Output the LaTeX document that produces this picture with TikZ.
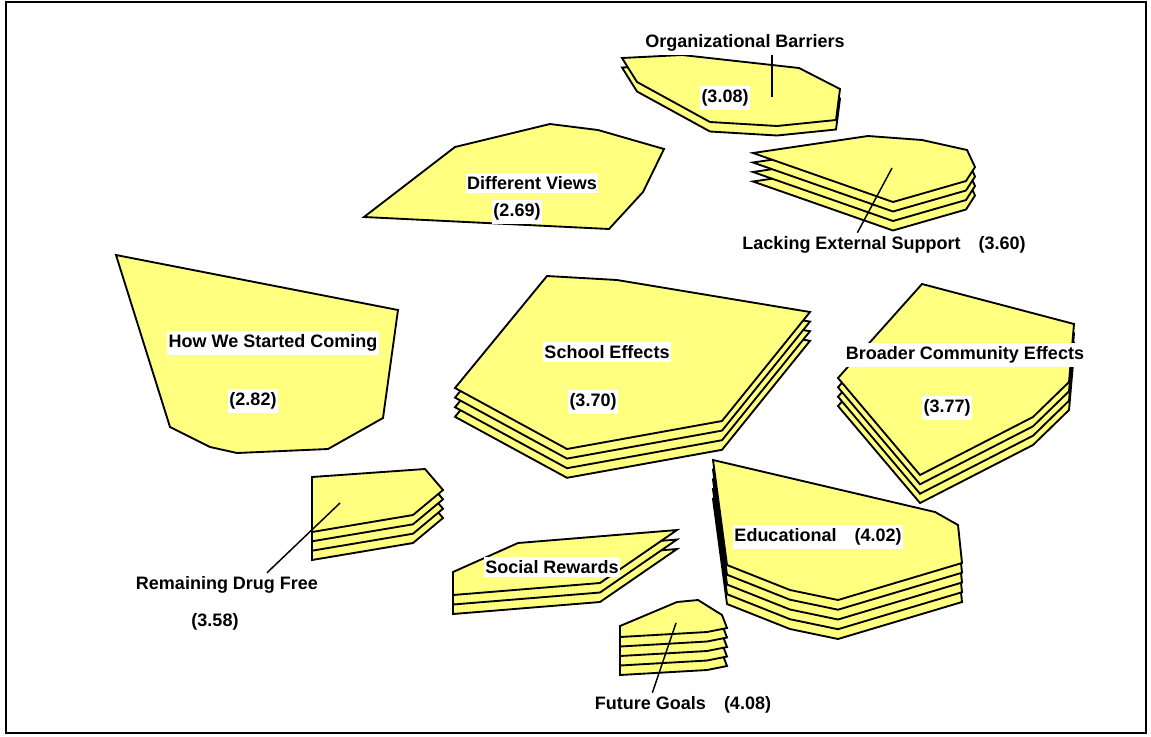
\documentclass[tikz,border=0pt]{standalone}
\usepackage{fontspec}
\setmainfont{Liberation Sans}

\tikzset{every picture/.style={line width=0.75pt}}
\tikzset{
  cluster/.style={draw=black, line width=1.4pt, fill={rgb, 255:red, 255; green, 255; blue, 128}},
  lbl/.style={fill=white, inner xsep=1pt, inner ysep=2.5pt, font=\fontsize{13.5}{16}\selectfont\bfseries},
  leader/.style={draw=black, line width=1.1pt}
}

\begin{document}
\begin{tikzpicture}[x=0.75pt,y=0.75pt,yscale=-1,xscale=1]
\useasboundingbox (0,0) rectangle (1151,736);
%Frame
\draw [line width=1.5pt] (6,2) rectangle (1146,733);

%Shape: Organizational Barriers (2 layers)
\draw [cluster, shift={(0,9.5)}] (622,58) -- (682,55) -- (799,68) -- (840,89) -- (836,120) -- (777,126) -- (710,122) -- (637,82) -- cycle ;
\draw [cluster] (622,58) -- (682,55) -- (799,68) -- (840,89) -- (836,120) -- (777,126) -- (710,122) -- (637,82) -- cycle ;
%Shape: Lacking External Support (4 layers)
\draw [cluster, shift={(0,28.5)}] (753,153) -- (868,136) -- (922,140) -- (967,150) -- (975,167) -- (966,181) -- (893,202) -- cycle ;
\draw [cluster, shift={(0,19)}] (753,153) -- (868,136) -- (922,140) -- (967,150) -- (975,167) -- (966,181) -- (893,202) -- cycle ;
\draw [cluster, shift={(0,9.5)}] (753,153) -- (868,136) -- (922,140) -- (967,150) -- (975,167) -- (966,181) -- (893,202) -- cycle ;
\draw [cluster] (753,153) -- (868,136) -- (922,140) -- (967,150) -- (975,167) -- (966,181) -- (893,202) -- cycle ;
%Shape: Different Views
\draw [cluster] (364,217) -- (455,147) -- (550,124) -- (598,130) -- (664,149) -- (643,192) -- (609,229) -- cycle ;
%Shape: How We Started Coming
\draw [cluster] (116,255) -- (398,310) -- (383,418) -- (328,449) -- (237,453) -- (210,447) -- (170,427) -- cycle ;
%Shape: School Effects (4 layers)
\draw [cluster, shift={(0,28.8)}] (547,276) -- (617,280) -- (810,312) -- (722,421) -- (567,449) -- (455,388) -- cycle ;
\draw [cluster, shift={(0,19.2)}] (547,276) -- (617,280) -- (810,312) -- (722,421) -- (567,449) -- (455,388) -- cycle ;
\draw [cluster, shift={(0,9.6)}] (547,276) -- (617,280) -- (810,312) -- (722,421) -- (567,449) -- (455,388) -- cycle ;
\draw [cluster] (547,276) -- (617,280) -- (810,312) -- (722,421) -- (567,449) -- (455,388) -- cycle ;
%Shape: Broader Community Effects (4 layers)
\draw [cluster, shift={(0,28)}] (922,284) -- (1074,324) -- (1069,382) -- (1033,417) -- (920,475) -- (838,378) -- cycle ;
\draw [cluster, shift={(0,18.7)}] (922,284) -- (1074,324) -- (1069,382) -- (1033,417) -- (920,475) -- (838,378) -- cycle ;
\draw [cluster, shift={(0,9.3)}] (922,284) -- (1074,324) -- (1069,382) -- (1033,417) -- (920,475) -- (838,378) -- cycle ;
\draw [cluster] (922,284) -- (1074,324) -- (1069,382) -- (1033,417) -- (920,475) -- (838,378) -- cycle ;
%Shape: Remaining Drug Free (4 layers)
\draw [cluster, shift={(0,28)}] (312,477) -- (425,469) -- (443,490) -- (413,515) -- (312,532) -- cycle ;
\draw [cluster, shift={(0,18.7)}] (312,477) -- (425,469) -- (443,490) -- (413,515) -- (312,532) -- cycle ;
\draw [cluster, shift={(0,9.3)}] (312,477) -- (425,469) -- (443,490) -- (413,515) -- (312,532) -- cycle ;
\draw [cluster] (312,477) -- (425,469) -- (443,490) -- (413,515) -- (312,532) -- cycle ;
%Shape: Social Rewards (3 layers)
\draw [cluster, shift={(0,19)}] (453,572) -- (518,543) -- (677,530) -- (600,583) -- (453,595) -- cycle ;
\draw [cluster, shift={(0,9.5)}] (453,572) -- (518,543) -- (677,530) -- (600,583) -- (453,595) -- cycle ;
\draw [cluster] (453,572) -- (518,543) -- (677,530) -- (600,583) -- (453,595) -- cycle ;
%Shape: Educational (5 layers)
\draw [cluster, shift={(0,39)}] (713,460) -- (935,512) -- (958,525) -- (962,563) -- (838,600) -- (790,590) -- (727,565) -- cycle ;
\draw [cluster, shift={(0,29.2)}] (713,460) -- (935,512) -- (958,525) -- (962,563) -- (838,600) -- (790,590) -- (727,565) -- cycle ;
\draw [cluster, shift={(0,19.5)}] (713,460) -- (935,512) -- (958,525) -- (962,563) -- (838,600) -- (790,590) -- (727,565) -- cycle ;
\draw [cluster, shift={(0,9.7)}] (713,460) -- (935,512) -- (958,525) -- (962,563) -- (838,600) -- (790,590) -- (727,565) -- cycle ;
\draw [cluster] (713,460) -- (935,512) -- (958,525) -- (962,563) -- (838,600) -- (790,590) -- (727,565) -- cycle ;
%Shape: Future Goals (5 layers)
\draw [cluster, shift={(0,38)}] (620,626) -- (677,602) -- (698,600) -- (722,615) -- (727,628) -- (707,632) -- (620,637) -- cycle ;
\draw [cluster, shift={(0,28.5)}] (620,626) -- (677,602) -- (698,600) -- (722,615) -- (727,628) -- (707,632) -- (620,637) -- cycle ;
\draw [cluster, shift={(0,19)}] (620,626) -- (677,602) -- (698,600) -- (722,615) -- (727,628) -- (707,632) -- (620,637) -- cycle ;
\draw [cluster, shift={(0,9.5)}] (620,626) -- (677,602) -- (698,600) -- (722,615) -- (727,628) -- (707,632) -- (620,637) -- cycle ;
\draw [cluster] (620,626) -- (677,602) -- (698,600) -- (722,615) -- (727,628) -- (707,632) -- (620,637) -- cycle ;

% Leader points
\coordinate (orgpt) at (772,97) ;
\coordinate (lackpt) at (892,168) ;
\coordinate (rdfpt) at (340,503) ;
\coordinate (fgpt) at (676,623) ;

% Text Node
\node [lbl] (orgtxt) at (745,43) {Organizational Barriers};
% Text Node
\node [lbl] (orgval) at (725,98) {(3.08)};
% Text Node
\node [lbl] (lacktxt) at (884,245) {Lacking External Support\quad(3.60)};
% Text Node
\node [lbl] (dvtxt) at (532,183) {Different Views};
% Text Node
\node [lbl] (dvval) at (517,212) {(2.69)};
% Text Node
\node [lbl] (hwstxt) at (273,343) {How We Started Coming};
% Text Node
\node [lbl] (hwsval) at (253,401) {(2.82)};
% Text Node
\node [lbl] (setxt) at (607,352) {School Effects};
% Text Node
\node [lbl] (seval) at (593,402) {(3.70)};
% Text Node
\node [lbl] (bcetxt) at (965,355) {Broader Community Effects};
% Text Node
\node [lbl] (bceval) at (947,408) {(3.77)};
% Text Node
\node [lbl] (rdftxt) at (227,585) {Remaining Drug Free};
% Text Node
\node [lbl] (rdfval) at (215,622) {(3.58)};
% Text Node
\node [lbl] (srtxt) at (552,567) {Social Rewards};
% Text Node
\node [lbl] (edtxt) at (818,537) {Educational\quad(4.02)};
% Text Node
\node [lbl] (fgtxt) at (683,705) {Future Goals\quad(4.08)};

%Straight Lines
\draw [leader] (orgpt) -- (orgpt |- orgtxt.south) ;
\draw [leader] (lackpt) -- ([xshift=-20pt]lacktxt.north) ;
\draw [leader] (rdfpt) -- ([xshift=30pt]rdftxt.north) ;
\draw [leader] (fgpt) -- ([xshift=-23pt]fgtxt.north) ;
\end{tikzpicture}
\end{document}
